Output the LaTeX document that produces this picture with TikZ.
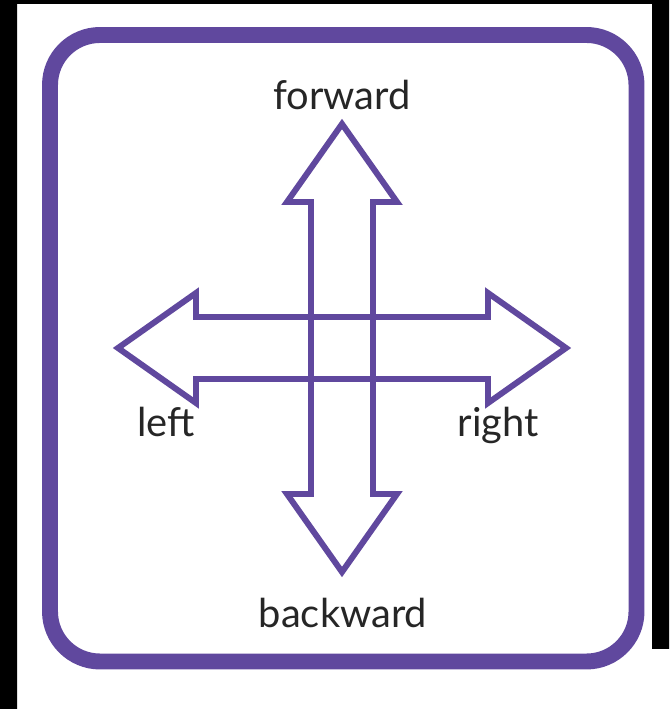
\documentclass[tikz,border=0pt]{standalone}
\usepackage{fontspec}
\setmainfont{Lato}
\definecolor{arrow_purple}{RGB}{96, 72, 158}
\definecolor{label_grey}{RGB}{38, 38, 38}

\begin{document}
\begin{tikzpicture}[x=0.03cm, y=0.03cm]
\useasboundingbox (0,0) rectangle (669,709);
\fill[black] (0,0) rectangle (17,709) (0,705) rectangle (669,709) (652,60) rectangle (669,709);
\draw[arrow_purple, line width=13.6pt, rounded corners=1.5cm] (50,47.5) rectangle (636.5,674);
\foreach \a in {0,90,180,270}
  \draw[arrow_purple, line width=5.1pt, line join=miter, shift={(342,361)}, rotate=\a] (31,31) -- (146,31) -- (146,55) -- (224,0) -- (146,-55) -- (146,-31) -- (31,-31) -- cycle;
\node[anchor=base, label_grey, font=\fontsize{34}{36}\selectfont] (forward) at (342,599) {forward};
\node[anchor=base, label_grey, font=\fontsize{34}{36}\selectfont] (backward) at (343,81) {backward};
\node[anchor=base, label_grey, font=\fontsize{34}{36}\selectfont] (left) at (166,272) {left};
\node[anchor=base, label_grey, font=\fontsize{34}{36}\selectfont] (right) at (498,272) {right};
\end{tikzpicture}
\end{document}
